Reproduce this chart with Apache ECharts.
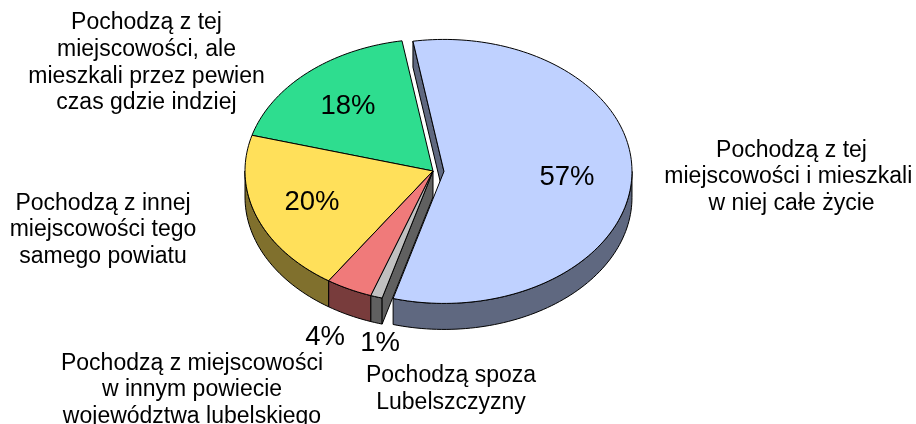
<!DOCTYPE html>
<html><head><meta charset="utf-8">
<style>html,body{margin:0;padding:0;background:#fff}#c{width:916px;height:424px}</style>
<script src="https://cdn.jsdelivr.net/npm/echarts@6/dist/echarts.min.js"></script>
</head><body><div id="c"></div>
<script>
// ---- data (clockwise from the start angle) ----
const categories = [
  'Pochodzą z tej\nmiejscowości i mieszkali \nw niej całe życie',
  'Pochodzą spoza\nLubelszczyzny',
  'Pochodzą z miejscowości\nw innym powiecie\nwojewództwa lubelskiego',
  'Pochodzą z innej\nmiejscowości tego\nsamego powiatu',
  'Pochodzą z tej\nmiejscowości, ale\nmieszkali przez pewien\nczas gdzie indziej'
];
const values = [57, 1, 4, 20, 18];
// ---- styles & layout ----
const topColors  = ['#bfd1ff', '#c0c0c0', '#f07a7a', '#ffe05a', '#2edd8f'];
const sideColors = ['#5f6880', '#606060', '#783c3c', '#80702d', '#176f48'];
const explode    = [11, 0, 0, 0, 0];
const START_DEG = -9.5, RX = 188, RY = 132, DEPTH = 26, CX = 433, CY = 171;
const valuePos = [[567,177],[380,343],[325,337],[312,202],[348,106]];
const namePos  = [[791.5,177],[451,389],[192,390],[103,230],[146.5,63]];
const NAME_LH = 26.7;

const total = values.reduce((a,b)=>a+b,0);
const slices = []; let acc = START_DEG;
values.forEach((v,i)=>{ const a0 = acc, a1 = acc + v/total*360; acc = a1; slices.push({i,a0,a1}); });
const rad = d => d*Math.PI/180;

function renderItem(params, api){
  const i = api.value(1), s = slices[i];
  const mid = rad((s.a0+s.a1)/2);
  const ox = explode[i]/RX*Math.sin(mid), oy = explode[i]/RX*Math.cos(mid);
  const dz = DEPTH/RY;
  const P = (deg, r, z) => api.coord([ox + r*Math.sin(rad(deg)), oy + r*Math.cos(rad(deg)) - (z||0)]);
  const arc = (a,b,z) => { const o=[], n=Math.max(2,Math.ceil(Math.abs(b-a)/1.5)); for(let k=0;k<=n;k++) o.push(P(a+(b-a)*k/n,1,z)); return o; };
  const stroke = {stroke:'#000', lineWidth:1, lineJoin:'round'};
  const poly = (points, fill) => ({type:'polygon', shape:{points}, style:Object.assign({fill},stroke), silent:true});
  const children = [];
  // outer wall: only the front half of the rim faces the viewer
  const fa0 = Math.max(s.a0, 90), fa1 = Math.min(s.a1, 270);
  if (fa1 > fa0) children.push(poly(arc(fa0,fa1,0).concat(arc(fa1,fa0,dz)), sideColors[i]));
  // radial cut faces next to the exploded slice
  if (i === 1) children.push(poly([P(0,0,0),P(s.a0,1,0),P(s.a0,1,dz),P(0,0,dz)], sideColors[1]));
  if (i === 0) children.push(poly([P(s.a0,1,0),P(s.a0,1,dz),P(0,0,dz),P(0,0,0)], sideColors[0]));
  // top face
  children.push(poly([P(0,0,0)].concat(arc(s.a0,s.a1,0)), topColors[i]));
  return {type:'group', children};
}

const chart = echarts.init(document.getElementById('c'), null, {renderer:'canvas'});
const FONT = '"Liberation Sans", Arial, sans-serif';
chart.setOption({
  animation:false,
  backgroundColor:'#fff',
  grid:{left:CX-RX, top:CY-RY, width:2*RX, height:2*RY},
  xAxis:{type:'value', min:-1, max:1, show:false},
  yAxis:{type:'value', min:-1, max:1, show:false},
  series:[{
    type:'custom', clip:false, coordinateSystem:'cartesian2d',
    renderItem, silent:true,
    encode:{x:2,y:3},
    data: values.map((v,i)=>[v,i,0,0]).reverse()
  }],
  graphic:{elements:[
    ...values.map((v,i)=>({type:'text',x:valuePos[i][0],y:valuePos[i][1],z:10,silent:true,
      style:{text:v+'%',font:'27.5px '+FONT,fill:'#000',align:'center',verticalAlign:'middle'}})),
    ...categories.map((c,i)=>({type:'text',x:namePos[i][0],y:namePos[i][1],z:10,silent:true,
      style:{text:c,font:'23px '+FONT,lineHeight:NAME_LH,fill:'#000',align:'center',verticalAlign:'middle'}}))
  ]}
});
</script></body></html>
